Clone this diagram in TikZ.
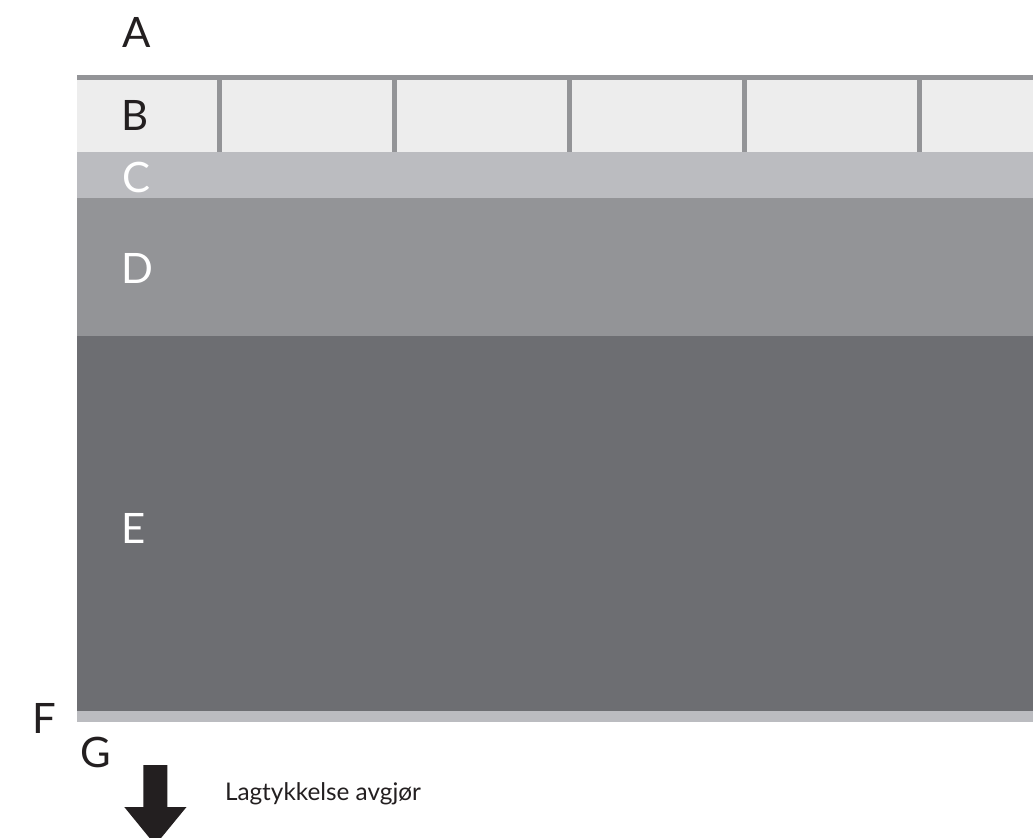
\documentclass[tikz,border=0pt]{standalone}
\usepackage{fontspec}
\setmainfont{Lato}
\usepackage{tikz}
\usetikzlibrary{positioning}

\definecolor{layerB}{HTML}{EDEDED}
\definecolor{layerC}{HTML}{BBBCC0}
\definecolor{layerD}{HTML}{939497}
\definecolor{layerE}{HTML}{6D6E72}
\definecolor{arrowdark}{HTML}{231F20}

\begin{document}
\begin{tikzpicture}[
    x=0.025cm, y=-0.025cm,
    every node/.append style = {inner sep=0pt, outer sep=0pt},
    letter/.style = {font=\fontsize{29.8}{30}\selectfont, anchor=center},
    whiteletter/.style = {letter, text=white},
    darkletter/.style = {letter, text=arrowdark},
    caption/.style = {font=\fontsize{17.3}{18}\selectfont, text=arrowdark, anchor=base west}
  ]
  \useasboundingbox (0,0) rectangle (1033,837);
  \begin{scope}
    % layers from top to bottom
    \fill[layerD] (77,75) rectangle (1033,80);
    \fill[layerB] (77,80) rectangle (1033,152);
    \foreach \x in {219.5,394.5,...,919.5} {
      \fill[layerD] (\x-2.5,80) rectangle (\x+2.5,152);
    }
    \fill[layerC] (77,152) rectangle (1033,198);
    \fill[layerD] (77,198) rectangle (1033,336);
    \fill[layerE] (77,336) rectangle (1033,711);
    \fill[layerC] (77,711) rectangle (1033,722);

    \node[darkletter] (labA) at (137,32) {A};
    \node[darkletter] (labB) at (135,115.5) {B};
    \node[whiteletter] (labC) at (136,177) {C};
    \node[whiteletter] (labD) at (137,268) {D};
    \node[whiteletter] (labE) at (134,528) {E};
    \node[darkletter] (labF) at (44,718) {F};
    \node[darkletter] (labG) at (96,752) {G};

    % thickness arrow
    \fill[arrowdark] (143.3,765) -- (167.3,765) -- (167.3,807) -- (186.5,807)
      -- (155.3,845) -- (124.3,807) -- (143.3,807) -- cycle;
    \node[caption] (lagtxt) at (225,800) {Lagtykkelse avgjør};
  \end{scope}
\end{tikzpicture}
\end{document}
